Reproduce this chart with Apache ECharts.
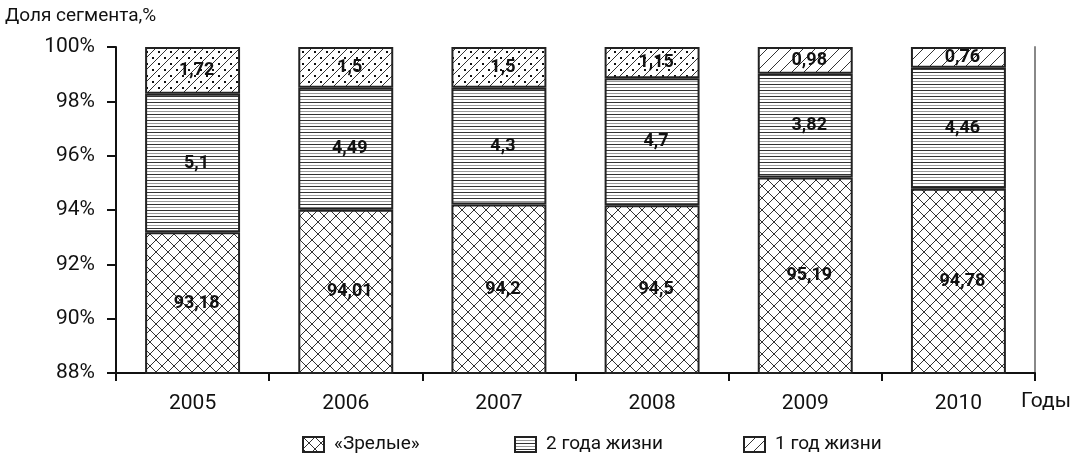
<!DOCTYPE html>
<html>
<head>
<meta charset="utf-8">
<script src="https://cdn.jsdelivr.net/npm/echarts@6/dist/echarts.min.js"></script>
<style>
  html, body { margin: 0; padding: 0; background: #fff; }
  #chart { width: 1072px; height: 466px; }
</style>
</head>
<body>
<div id="chart"></div>
<script>
// data
var years = ["2005", "2006", "2007", "2008", "2009", "2010"];
var mature = [93.18, 94.01, 94.2, 94.5, 95.19, 94.78];
var twoYear = [5.1, 4.49, 4.3, 4.7, 3.82, 4.46];
var oneYear = [1.72, 1.5, 1.5, 1.15, 0.98, 0.76];
// top segment drawn with dots for these years
var dotted = [true, true, true, true, false, false];
var seriesNames = ["«Зрелые»", "2 года жизни", "1 год жизни"];
var yTicks = [88, 90, 92, 94, 96, 98, 100];

var FONT = "Roboto";

function makeTile(w, h, draw) {
  var c = document.createElement("canvas");
  c.width = w;
  c.height = h;
  var ctx = c.getContext("2d");
  ctx.fillStyle = "#fff";
  ctx.fillRect(0, 0, w, h);
  draw(ctx);
  return { image: c, repeat: "repeat" };
}

var crossPat = makeTile(12, 12, function (ctx) {
  ctx.strokeStyle = "#333";
  ctx.lineWidth = 1;
  ctx.beginPath();
  ctx.moveTo(0, 0); ctx.lineTo(12, 12);
  ctx.moveTo(0, 12); ctx.lineTo(12, 0);
  ctx.stroke();
});

var hLinePat = makeTile(8, 6, function (ctx) {
  ctx.fillStyle = "#333";
  ctx.fillRect(0, 0, 8, 1);
  ctx.fillStyle = "#999";
  ctx.fillRect(0, 3, 8, 1);
});

function diag(ctx) {
  ctx.strokeStyle = "#333";
  ctx.lineWidth = 1;
  ctx.beginPath();
  ctx.moveTo(0, 12); ctx.lineTo(12, 0);
  ctx.moveTo(-1, 1); ctx.lineTo(1, -1);
  ctx.moveTo(11, 13); ctx.lineTo(13, 11);
  ctx.stroke();
}
var diagPat = makeTile(12, 12, diag);
var diagDotPat = makeTile(12, 12, function (ctx) {
  diag(ctx);
  ctx.fillStyle = "#111";
  ctx.fillRect(2, 3, 2, 2);
  ctx.fillRect(8, 9, 2, 2);
});

function share(arr, i) {
  var total = mature[i] + twoYear[i] + oneYear[i];
  return arr[i] / total * 100;
}
function fmt(v) {
  return String(v).replace(".", ",");
}

var raw = [mature, twoYear, oneYear];
var pats = [crossPat, hLinePat, diagPat];

var series = raw.map(function (arr, s) {
  return {
    name: seriesNames[s],
    type: "bar",
    stack: "total",
    barWidth: "62%",
    itemStyle: { color: pats[s], borderColor: "#222", borderWidth: 2 },
    label: {
      show: true,
      position: "inside",
      offset: [4, 0],
      color: "#111",
      fontFamily: FONT,
      fontWeight: "bold",
      fontSize: 18,
      formatter: function (p) { return fmt(arr[p.dataIndex]); }
    },
    data: years.map(function (y, i) {
      var item = { value: share(arr, i) };
      if (s === 2 && dotted[i]) item.itemStyle = { color: diagDotPat };
      return item;
    })
  };
});

// one legend per item so each sits where the picture has it
var legendLeft = [297, 509, 738];
var legends = seriesNames.map(function (n, i) {
  return {
    left: legendLeft[i],
    top: 430,
    icon: "rect",
    itemWidth: 21,
    itemHeight: 15,
    itemGap: 12,
    textStyle: { fontFamily: FONT, fontSize: 19, color: "#111", padding: [0, 0, 0, 5] },
    data: [n]
  };
});

var myChart = echarts.init(document.getElementById("chart"));
myChart.setOption({
  animation: false,
  textStyle: { fontFamily: FONT },
  grid: { left: 116, right: 37, top: 47, bottom: 93 },
  legend: legends,
  xAxis: {
    type: "category",
    data: years,
    axisLine: { lineStyle: { color: "#111", width: 2 } },
    axisTick: { show: true, length: 8, interval: 0, lineStyle: { color: "#111", width: 2 } },
    axisLabel: { margin: 20, fontFamily: FONT, fontSize: 21, color: "#111" }
  },
  yAxis: [
    {
      type: "value",
      min: yTicks[0],
      max: yTicks[yTicks.length - 1],
      interval: 2,
      splitLine: { show: false },
      axisLine: { show: true, lineStyle: { color: "#111", width: 2 } },
      axisTick: { show: true, length: 9, lineStyle: { color: "#111", width: 2 } },
      axisLabel: { margin: 21, fontFamily: FONT, fontSize: 21, color: "#111", formatter: "{value}%" }
    },
    {
      type: "value",
      position: "right",
      min: yTicks[0],
      max: yTicks[yTicks.length - 1],
      interval: 2,
      splitLine: { show: false },
      axisLine: { show: true, lineStyle: { color: "#888", width: 2 } },
      axisTick: { show: false },
      axisLabel: { show: false }
    }
  ],
  graphic: [
    { type: "text", left: 5, top: 7, style: { text: "Доля сегмента,%", fontFamily: FONT, fontSize: 19, fill: "#111" } },
    { type: "text", left: 1021, top: 391, style: { text: "Годы", fontFamily: FONT, fontSize: 21, fill: "#111" } }
  ],
  series: series
});
window.addEventListener("resize", function () {
  myChart.resize();
});
</script>
</body>
</html>
